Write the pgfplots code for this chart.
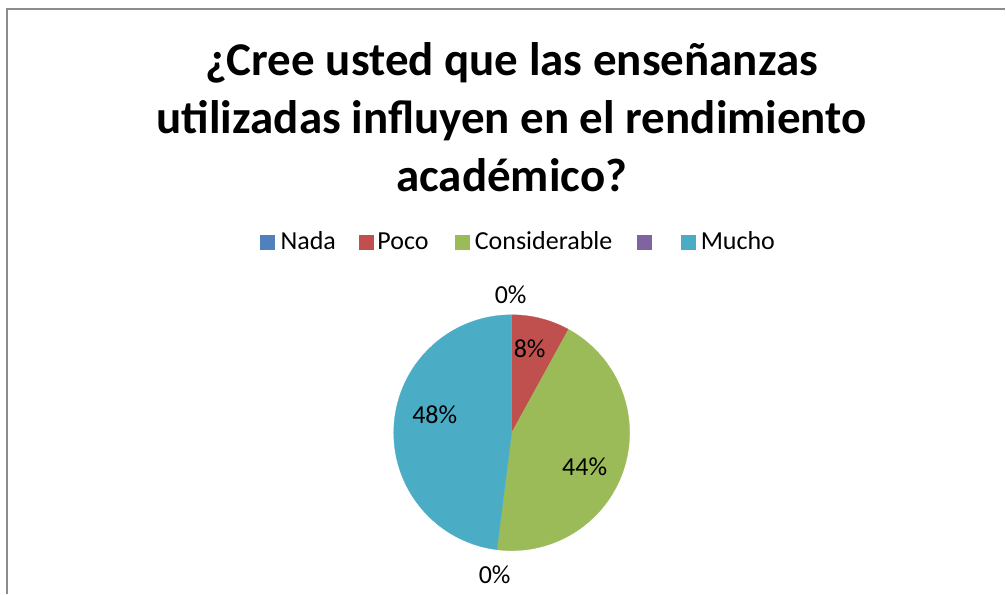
\documentclass[border=0pt]{standalone}
\usepackage{fontspec}
\setmainfont{Carlito}
\usepackage{pgfplots}
\usepackage{pgfplotstable}
\pgfplotsset{compat=1.18}

\definecolor{cNada}{HTML}{4F81BD}
\definecolor{cPoco}{HTML}{C0504D}
\definecolor{cCons}{HTML}{9BBB59}
\definecolor{cVacio}{HTML}{8064A2}
\definecolor{cMucho}{HTML}{4BACC6}
\definecolor{marco}{HTML}{8C8C8C}

% porcentaje de cada respuesta, en el orden del pastel (sentido horario desde arriba)
\pgfplotstableread{
cat pct color
Nada 0 cNada
Poco 8 cPoco
Considerable 44 cCons
Vacio 0 cVacio
Mucho 48 cMucho
}\piedata

\begin{document}
\begin{tikzpicture}
\begin{axis}[
    hide axis, clip=false,
    x=1pt, y=1pt,
    xmin=0, xmax=1006, ymin=0, ymax=594,
    scale only axis,
]
\path (axis cs:0,0) rectangle (axis cs:1006,594);
% marco del grafico (solo se ven los bordes izquierdo y superior)
\draw[marco, line width=1.3pt] (axis cs:7,0) -- (axis cs:7,585) -- (axis cs:1006,585);

% pastel
\pgfplotsextra{
  \gdef\angA{90}
  \pgfplotsforeachungrouped \i in {0,...,4}{
    \pgfplotstablegetelem{\i}{pct}\of\piedata \let\val=\pgfplotsretval
    \pgfplotstablegetelem{\i}{color}\of\piedata \let\col=\pgfplotsretval
    \pgfmathsetmacro\angB{\angA-3.6*\val}
    \ifdim\val pt>0pt
      \fill[fill=\col, draw=\col, line width=0.3pt] (axis cs:512,161) -- ++(\angA:118pt)
        arc[start angle=\angA, end angle=\angB, radius=118pt] -- cycle;
    \fi
    \global\let\angA=\angB
  }
}

% etiquetas de datos
\begin{scope}[every node/.style={font=\fontsize{26}{31}\selectfont, inner sep=0pt}]
\node at (axis cs:511,299) {0\%};
\node at (axis cs:530,245) {8\%};
\node at (axis cs:585,127) {44\%};
\node at (axis cs:495,19) {0\%};
\node at (axis cs:435,179) {48\%};
\end{scope}

% titulo
\node[align=center, font=\bfseries\fontsize{47}{58}\selectfont] at (axis cs:512,477)
  {¿Cree usted que las enseñanzas\\utilizadas influyen en el rendimiento\\académico?};

% leyenda
\begin{scope}[every node/.style={font=\fontsize{26}{31}\selectfont, inner sep=0pt, anchor=base west}]
\fill[cNada] (axis cs:260,344) rectangle (axis cs:275,359);
\node at (axis cs:280.5,344) {Nada};
\fill[cPoco] (axis cs:359,344) rectangle (axis cs:374,359);
\node at (axis cs:377.5,344) {Poco};
\fill[cCons] (axis cs:455,344) rectangle (axis cs:470,359);
\node at (axis cs:475,344) {Considerable};
\fill[cVacio] (axis cs:637,344) rectangle (axis cs:652,359);
\fill[cMucho] (axis cs:681,344) rectangle (axis cs:696,359);
\node at (axis cs:701,344) {Mucho};
\end{scope}
\end{axis}
\end{tikzpicture}
\end{document}
